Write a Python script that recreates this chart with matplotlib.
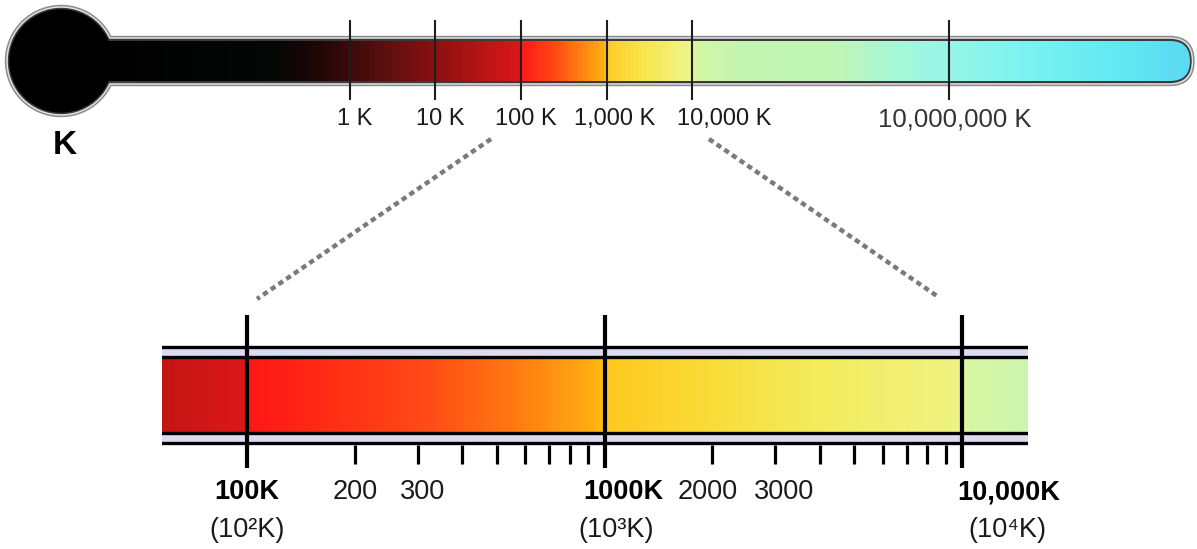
import numpy as np
import matplotlib.pyplot as plt
from matplotlib.colors import LinearSegmentedColormap, Normalize
from matplotlib.patches import Circle, FancyBboxPatch

plt.rcParams['font.family'] = ['Liberation Sans', 'DejaVu Sans']

# top thermometer scale (kelvin)
top_ticks = [1, 10, 100, 1000, 10000, 10000000]
top_labels = ['1 K', '10 K', '100 K', '1,000 K', '10,000 K', '10,000,000 K']

# zoomed section 100 K .. 10,000 K
zoom_major = [100, 1000, 10000]
zoom_major_labels = ['100K', '1000K', '10,000K']
zoom_power_labels = ['(10²K)', '(10³K)', '(10⁴K)']
zoom_minor = [200, 300, 400, 500, 600, 700, 800, 900,
              2000, 3000, 4000, 5000, 6000, 7000, 8000, 9000]
zoom_minor_labels = {200: '200', 300: '300', 2000: '2000', 3000: '3000'}

# colour along each scale, keyed by log10(T)
top_stops = [(-3.05, '#000000'), (-0.9, '#050606'), (-0.4, '#1e0606'),
             (0.0, '#3c0a0a'), (0.5, '#621010'), (1.0, '#8a1010'),
             (1.5, '#b41414'), (1.98, '#dc1616'), (2.02, '#ff1a1a'),
             (2.4, '#ff4a14'), (2.75, '#ff8a10'), (2.97, '#ffb010'),
             (3.03, '#ffcc28'), (3.4, '#f8e448'), (3.97, '#eef58a'),
             (4.05, '#d4f6a4'), (4.5, '#c4f5b0'), (5.7, '#bff5b6'),
             (6.4, '#a6f7d8'), (7.0, '#98f5e8'), (8.0, '#78f2f0'),
             (9.0, '#62e8f2'), (9.9, '#5ad8f2')]
zoom_stops = [(1.762, '#c41414'), (1.99, '#dc1818'), (2.0, '#ff1616'),
              (2.2, '#ff2a14'), (2.5, '#ff4a16'), (2.75, '#ff7a10'),
              (2.95, '#ffa810'), (2.995, '#ffbc12'), (3.005, '#ffc81e'),
              (3.3, '#f8dc38'), (3.6, '#f2ec5c'), (3.99, '#eef280'),
              (4.005, '#d8f7a0'), (4.185, '#cdf5b0')]

W, H = 1197, 549
fig = plt.figure(figsize=(W / 100, H / 100), dpi=100)

# background axes in pixel coordinates
bg = fig.add_axes([0, 0, 1, 1])
bg.set_xlim(0, W)
bg.set_ylim(H, 0)
bg.axis('off')


def stop_cmap(stops):
    lo, hi = stops[0][0], stops[-1][0]
    return LinearSegmentedColormap.from_list(
        'st', [((v - lo) / (hi - lo), c) for v, c in stops]), lo, hi


def log_axes(px0, px1, px_ref, lg_ref, px_per_dec):
    ax = fig.add_axes([px0 / W, 0, (px1 - px0) / W, 1])
    ax.set_xscale('log')
    ax.set_xlim(10 ** (lg_ref + (px0 - px_ref) / px_per_dec),
                10 ** (lg_ref + (px1 - px_ref) / px_per_dec))
    ax.set_ylim(H, 0)
    ax.axis('off')
    return ax


def gradient(ax, stops, y0, y1):
    cmap, lo, hi = stop_cmap(stops)
    X = np.logspace(lo, hi, 900)
    C = np.log10(np.sqrt(X[:-1] * X[1:]))[None, :]
    return ax.pcolormesh(X, [y0, y1], C, cmap=cmap, norm=Normalize(lo, hi),
                         shading='flat', antialiased=False)


# thermometer body: layered outline
cx, cy = 61, 61
layers = [(0, '#8a8a8a'), (1.5, '#e4e4e4'), (3.0, '#3a3a3a')]
for i, (ins, col) in enumerate(layers):
    bg.add_patch(Circle((cx, cy), 55.5 - ins, color=col, zorder=1 + i))
    y0, y1 = 36.5 + ins, 85.5 - ins
    bg.add_patch(FancyBboxPatch((cx, y0), 1194 - ins - cx, y1 - y0,
                                boxstyle='round,pad=0,rounding_size=%g' % ((y1 - y0) / 2),
                                color=col, zorder=1 + i))
bg.add_patch(Circle((cx, cy), 51, color='black', zorder=5))
bg.text(65, 146, 'K', fontsize=24, fontweight='bold', ha='center', va='center')

# top log scale
ax_top = log_axes(90, W, 349.5, 0.0, 85.67)
mesh = gradient(ax_top, top_stops, 41, 81)
clip = FancyBboxPatch((cx, 41), 1189.5 - cx, 40,
                      boxstyle='round,pad=0,rounding_size=20',
                      transform=bg.transData)
mesh.set_clip_path(clip)
ax_top.vlines(top_ticks, 20, 100, color='#1e1e1e', lw=1.5)
top_dx = [5, 5, 5, 8, 32, 6]
for v, lab, dx in zip(top_ticks, top_labels, top_dx):
    big = v >= 1e7
    ax_top.annotate(lab, (v, 119), xytext=(dx, 0), textcoords='offset pixels',
                    ha='center', va='center', fontsize=18.5 if big else 17,
                    color='#333333' if big else '#1a1a1a')

# zoom connectors
bg.plot([491, 257], [139, 299], color='#7a7a7a', lw=3.2, ls=(0, (1.2, 0.9)))
bg.plot([709, 937], [139, 296], color='#7a7a7a', lw=3.2, ls=(0, (1.2, 0.9)))

# zoomed bar
ax_z = log_axes(162, 1028, 247, 2.0, 357.5)
ax_z.axhspan(348.5, 355.5, color='#dcdcf0', lw=0)
ax_z.axhspan(434.5, 441.5, color='#dcdcf0', lw=0)
gradient(ax_z, zoom_stops, 357, 433)
for y in [347, 357, 433, 443]:
    ax_z.axhline(y, color='black', lw=2.4)
ax_z.vlines(zoom_major, 315, 468, color='black', lw=3)
ax_z.vlines(zoom_minor, 445, 464, color='black', lw=2.3)

major_dx = [0, 19, 47]
power_dx = [0, 12, 45]
for v, lab, plab, dx, pdx in zip(zoom_major, zoom_major_labels, zoom_power_labels,
                                 major_dx, power_dx):
    ax_z.annotate(lab, (v, 492), xytext=(dx, 0), textcoords='offset pixels',
                  ha='center', va='center', fontsize=19.5, fontweight='bold')
    ax_z.annotate(plab, (v, 530), xytext=(pdx, 0), textcoords='offset pixels',
                  ha='center', va='center', fontsize=19.5, color='#1a1a1a')
minor_dx = {200: 1, 300: 5, 2000: -4, 3000: 9}
for v, lab in zoom_minor_labels.items():
    ax_z.annotate(lab, (v, 492), xytext=(minor_dx[v], 0), textcoords='offset pixels',
                  ha='center', va='center', fontsize=19.5, color='#1a1a1a')

fig.savefig('out.png', dpi=100)
